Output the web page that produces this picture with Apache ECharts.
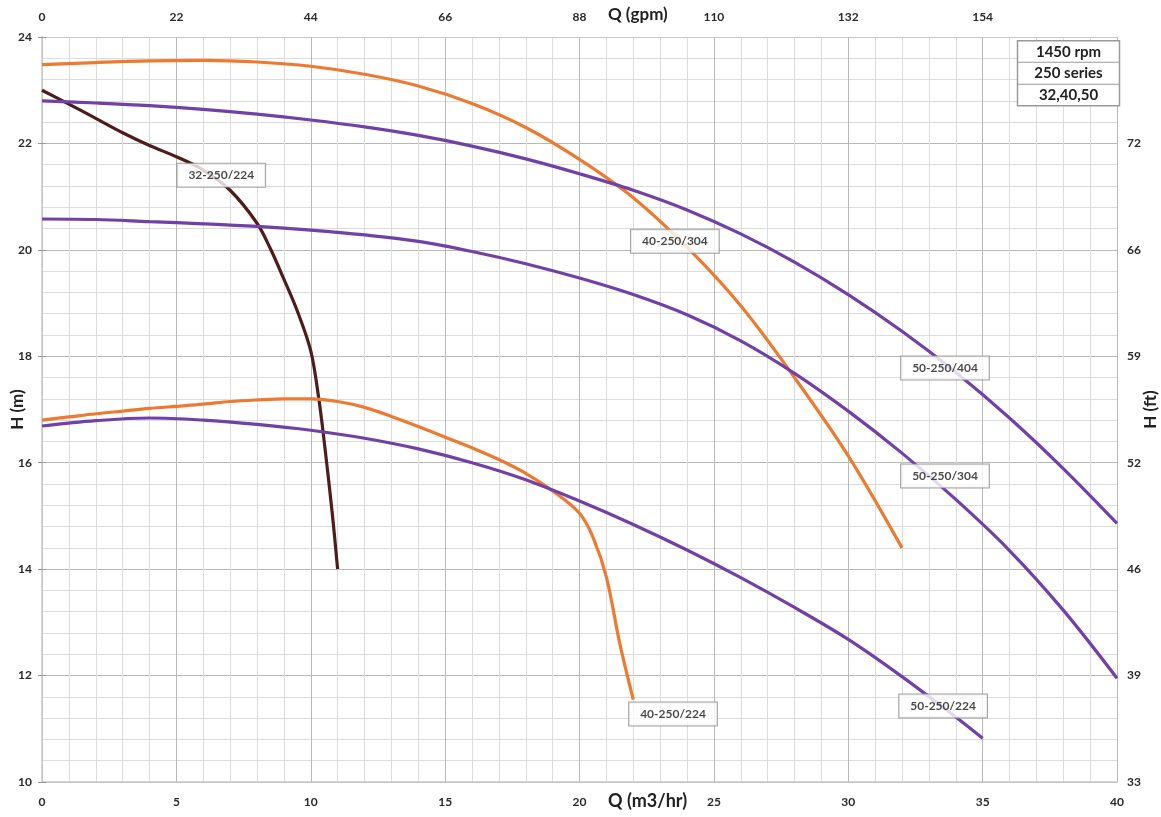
<!DOCTYPE html>
<html>
<head>
<meta charset="utf-8">
<script src="https://cdn.jsdelivr.net/npm/echarts@6/dist/echarts.min.js"></script>
<style>
html,body{margin:0;padding:0;background:#fff;}
#chart{width:1161px;height:817px;}
</style>
</head>
<body>
<div id="chart"></div>
<script>
// ---- Data (Q in m3/hr, H in m) ----
const q_32_224 = [0, 1, 2, 3, 4, 5, 6, 7, 8, 8.5, 9, 9.5, 10, 10.3, 10.5, 10.8, 11];
const h_32_224 = [23.0, 22.74, 22.47, 22.2, 21.96, 21.75, 21.5, 21.12, 20.5, 20.02, 19.45, 18.85, 18.1, 17.2, 16.4, 15.05, 14.0];

const q_40_304 = [0, 2, 4, 6, 8, 10, 12, 14, 16, 18, 20, 22, 24, 26, 28, 30, 32];
const h_40_304 = [23.48, 23.52, 23.55, 23.56, 23.53, 23.45, 23.3, 23.08, 22.75, 22.3, 21.7, 20.98, 20.05, 18.95, 17.6, 16.13, 14.4];

const q_50_404 = [0, 2, 4, 6, 8, 10, 12, 14, 16, 18, 20, 22, 24, 26, 28, 30, 32, 34, 36, 38, 40];
const h_50_404 = [22.8, 22.76, 22.71, 22.64, 22.55, 22.44, 22.31, 22.15, 21.95, 21.71, 21.43, 21.12, 20.75, 20.3, 19.77, 19.16, 18.47, 17.7, 16.84, 15.89, 14.86];

const q_50_304 = [0, 2, 4, 6, 8, 10, 12, 14, 16, 18, 20, 22, 24, 26, 28, 30, 32, 34, 36, 38, 40];
const h_50_304 = [20.58, 20.57, 20.53, 20.49, 20.44, 20.37, 20.28, 20.16, 19.97, 19.74, 19.47, 19.16, 18.78, 18.29, 17.68, 16.97, 16.18, 15.31, 14.35, 13.23, 11.95];

const q_40_224 = [0, 1, 2, 3, 4, 5, 6, 7, 8, 9, 10, 11, 12, 13, 14, 15, 16, 17, 18, 19, 20, 20.5, 21, 21.5, 22];
const h_40_224 = [16.8, 16.86, 16.92, 16.97, 17.02, 17.06, 17.1, 17.15, 17.18, 17.2, 17.2, 17.15, 17.04, 16.87, 16.68, 16.48, 16.28, 16.06, 15.8, 15.47, 15.05, 14.6, 13.85, 12.6, 11.55];

const q_50_224 = [0, 2, 4, 6, 8, 10, 12, 14, 16, 18, 20, 22, 24, 26, 28, 30, 32, 34, 35];
const h_50_224 = [16.69, 16.79, 16.84, 16.8, 16.72, 16.61, 16.46, 16.26, 16.0, 15.68, 15.28, 14.84, 14.36, 13.84, 13.28, 12.68, 11.98, 11.22, 10.82];

const curveNames = ['32-250/224', '40-250/304', '50-250/404', '50-250/304', '40-250/224', '50-250/224'];

// Tick labels
const gpmTickLabels = ['0', '22', '44', '66', '88', '110', '132', '154'];
const ftTickLabels = ['33', '39', '46', '52', '59', '66', '72', ''];
const infoLines = ['1450 rpm', '250 series', '32,40,50'];

// ---- Build ----
const zip = (q, h) => q.map((v, i) => [v, h[i]]);
const curves = [
  { name: curveNames[0], data: zip(q_32_224, h_32_224), color: '#4f1c1c' },
  { name: curveNames[1], data: zip(q_40_304, h_40_304), color: '#ee7a30' },
  { name: curveNames[2], data: zip(q_50_404, h_50_404), color: '#7140a8' },
  { name: curveNames[3], data: zip(q_50_304, h_50_304), color: '#7140a8' },
  { name: curveNames[4], data: zip(q_40_224, h_40_224), color: '#ee7a30' },
  { name: curveNames[5], data: zip(q_50_224, h_50_224), color: '#7140a8' }
];

const FONT = 'Lato, "Open Sans", sans-serif';
const chart = echarts.init(document.getElementById('chart'), null, { renderer: 'canvas' });

const lineSeries = curves.map(c => ({
  name: c.name,
  type: 'line',
  xAxisIndex: 0,
  yAxisIndex: 0,
  data: c.data,
  smooth: 0.35,
  symbol: 'none',
  lineStyle: { color: c.color, width: 3.2 },
  z: 3
}));

// label annotations (anchor in data coordinates)
const labelSeries = {
  type: 'scatter',
  xAxisIndex: 0,
  yAxisIndex: 0,
  symbolSize: 0,
  silent: true,
  z: 5,
  data: [
    { name: curveNames[0], value: [6.67, 21.4] },
    { name: curveNames[1], value: [23.55, 20.16] },
    { name: curveNames[2], value: [33.6, 17.78] },
    { name: curveNames[3], value: [33.6, 15.75] },
    { name: curveNames[4], value: [23.48, 11.28] },
    { name: curveNames[5], value: [33.53, 11.43] }
  ],
  label: {
    show: true,
    position: 'inside',
    formatter: '{b}',
    fontFamily: FONT,
    fontSize: 12,
    fontWeight: 'bold',
    color: '#1a1a1a',
    backgroundColor: '#ffffff',
    borderColor: '#8c8c8c',
    borderWidth: 1,
    padding: [6, 11, 5, 11]
  }
};

const axisLabelStyle = { fontFamily: FONT, fontSize: 12, fontWeight: 'bold', color: '#2a2a2a' };
const splitMajor = { show: true, lineStyle: { color: '#b8b8b8', width: 1 } };
const splitMinor = { show: true, lineStyle: { color: '#dcdcdc', width: 1 } };

const option = {
  backgroundColor: '#ffffff',
  animation: false,
  grid: { left: 42, right: 44, top: 37, bottom: 35, containLabel: false, outerBoundsMode: 'none', show: false },
  xAxis: [
    {
      type: 'value', position: 'bottom', min: 0, max: 40, interval: 5,
      axisLine: { show: true, lineStyle: { color: '#c8c8c8', width: 1.5 } },
      axisTick: { show: false },
      axisLabel: Object.assign({ margin: 14 }, axisLabelStyle),
      splitLine: splitMajor,
      minorTick: { show: false, splitNumber: 5 },
      minorSplitLine: splitMinor
    },
    {
      type: 'value', position: 'top', min: 0, max: 176, interval: 22,
      axisLine: { show: true, lineStyle: { color: '#c8c8c8', width: 1 } },
      axisTick: { show: false },
      axisLabel: Object.assign({
        margin: 14,
        formatter: v => { const i = Math.round(v / 22); return i < gpmTickLabels.length ? gpmTickLabels[i] : ''; }
      }, axisLabelStyle),
      splitLine: { show: false }
    }
  ],
  yAxis: [
    {
      type: 'value', position: 'left', min: 10, max: 24, interval: 2,
      name: 'H (m)', nameLocation: 'middle', nameRotate: 90, nameGap: 16, nameMoveOverlap: false,
      nameTextStyle: { fontFamily: FONT, fontSize: 17, fontWeight: 'bold', color: '#222' },
      axisLine: { show: true, lineStyle: { color: '#c8c8c8', width: 1.5 } },
      axisTick: { show: true, length: 4, lineStyle: { color: '#999' } },
      axisLabel: Object.assign({ margin: 10 }, axisLabelStyle),
      splitLine: splitMajor,
      minorTick: { show: false, splitNumber: 5 },
      minorSplitLine: splitMinor
    },
    {
      type: 'value', position: 'right', min: 10, max: 24, interval: 2,
      name: 'H (ft)', nameLocation: 'middle', nameRotate: 90, nameGap: 25, nameMoveOverlap: false,
      nameTextStyle: { fontFamily: FONT, fontSize: 17, fontWeight: 'bold', color: '#222' },
      axisLine: { show: true, lineStyle: { color: '#c8c8c8', width: 1 } },
      axisTick: { show: true, length: 4, lineStyle: { color: '#999' } },
      axisLabel: Object.assign({
        margin: 10,
        formatter: v => ftTickLabels[Math.round((v - 10) / 2)] || ''
      }, axisLabelStyle),
      splitLine: { show: false }
    }
  ],
  graphic: [
    { type: 'text', left: 608, top: 792, z: 100, style: { text: 'Q (m3/hr)', fontFamily: FONT, fontSize: 18, fontWeight: 'bold', fill: '#222' } },
    { type: 'text', left: 608, top: 6, z: 100, style: { text: 'Q (gpm)', fontFamily: FONT, fontSize: 17, fontWeight: 'bold', fill: '#222' } },
    {
      type: 'group', left: 1015, top: 40, z: 100,
      children: [
        { type: 'rect', z: 100, shape: { x: 0, y: 0, width: 102, height: 65 }, style: { fill: '#fff', stroke: '#9a9a9a', lineWidth: 1.5 } },
        { type: 'line', z: 101, shape: { x1: 0, y1: 21.5, x2: 102, y2: 21.5 }, style: { stroke: '#9a9a9a', lineWidth: 1 } },
        { type: 'line', z: 101, shape: { x1: 0, y1: 43.5, x2: 102, y2: 43.5 }, style: { stroke: '#9a9a9a', lineWidth: 1 } },
        { type: 'text', z: 102, x: 51, y: 11, style: { text: infoLines[0], align: 'center', verticalAlign: 'middle', fontFamily: FONT, fontSize: 15, fontWeight: 'bold', fill: '#222' } },
        { type: 'text', z: 102, x: 51, y: 32.5, style: { text: infoLines[1], align: 'center', verticalAlign: 'middle', fontFamily: FONT, fontSize: 15, fontWeight: 'bold', fill: '#222' } },
        { type: 'text', z: 102, x: 51, y: 54, style: { text: infoLines[2], align: 'center', verticalAlign: 'middle', fontFamily: FONT, fontSize: 15, fontWeight: 'bold', fill: '#222' } }
      ]
    }
  ],
  series: lineSeries.concat([labelSeries])
};

chart.setOption(option);
</script>
</body>
</html>
